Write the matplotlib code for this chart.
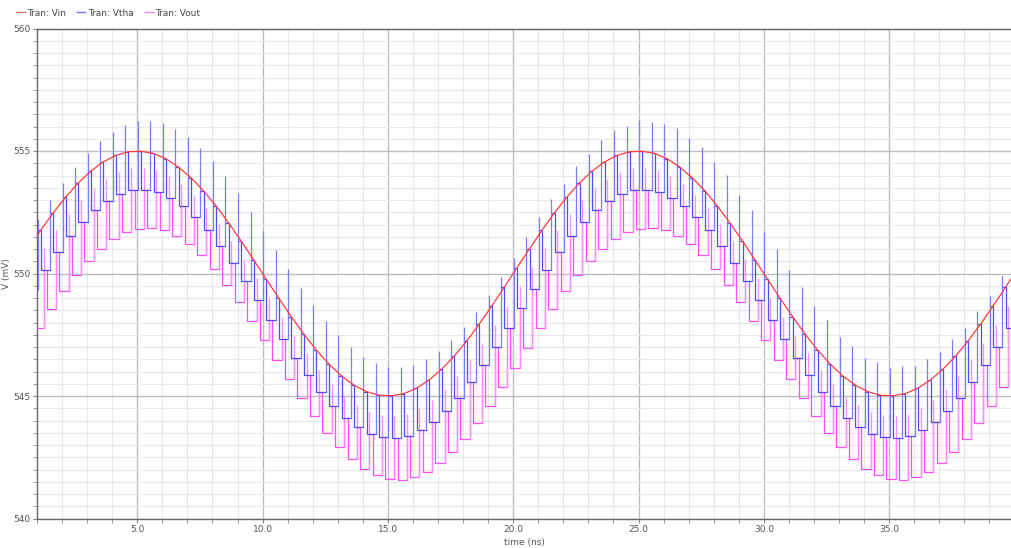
import numpy as np
import matplotlib
matplotlib.use("Agg")
import matplotlib.pyplot as plt
from matplotlib.lines import Line2D
from matplotlib.ticker import MultipleLocator, FormatStrFormatter

# start of each Vtha hold phase (ns)
t_hold = [0.15, 0.65, 1.15, 1.65, 2.15, 2.65, 3.15, 3.65, 4.15, 4.65,
          5.15, 5.65, 6.15, 6.65, 7.15, 7.65, 8.15, 8.65, 9.15, 9.65,
          10.15, 10.65, 11.15, 11.65, 12.15, 12.65, 13.15, 13.65, 14.15, 14.65,
          15.15, 15.65, 16.15, 16.65, 17.15, 17.65, 18.15, 18.65, 19.15, 19.65,
          20.15, 20.65, 21.15, 21.65, 22.15, 22.65, 23.15, 23.65, 24.15, 24.65,
          25.15, 25.65, 26.15, 26.65, 27.15, 27.65, 28.15, 28.65, 29.15, 29.65,
          30.15, 30.65, 31.15, 31.65, 32.15, 32.65, 33.15, 33.65, 34.15, 34.65,
          35.15, 35.65, 36.15, 36.65, 37.15, 37.65, 38.15, 38.65, 39.15, 39.65,
          40.15]

# Tran: Vin (mV) at those instants
vin = [550.24, 551.01, 551.77, 552.48, 553.13, 553.70, 554.18, 554.56, 554.82, 554.97,
       554.99, 554.90, 554.68, 554.34, 553.90, 553.37, 552.75, 552.06, 551.32, 550.55,
       549.76, 548.99, 548.23, 547.52, 546.87, 546.30, 545.82, 545.44, 545.18, 545.03,
       545.01, 545.10, 545.32, 545.66, 546.10, 546.63, 547.25, 547.94, 548.68, 549.45,
       550.24, 551.01, 551.77, 552.48, 553.13, 553.70, 554.18, 554.56, 554.82, 554.97,
       554.99, 554.90, 554.68, 554.34, 553.90, 553.37, 552.75, 552.06, 551.32, 550.55,
       549.76, 548.99, 548.23, 547.52, 546.87, 546.30, 545.82, 545.44, 545.18, 545.03,
       545.01, 545.10, 545.32, 545.66, 546.10, 546.63, 547.25, 547.94, 548.68, 549.45,
       550.24]

# Tran: Vtha hold level (mV)
vtha_hold = [548.59, 549.37, 550.15, 550.87, 551.52, 552.10, 552.59, 552.97, 553.24, 553.39,
             553.41, 553.32, 553.10, 552.75, 552.31, 551.77, 551.14, 550.44, 549.69, 548.91,
             548.11, 547.33, 546.56, 545.84, 545.18, 544.60, 544.11, 543.73, 543.46, 543.31,
             543.29, 543.38, 543.60, 543.95, 544.40, 544.93, 545.56, 546.26, 547.01, 547.79,
             548.59, 549.37, 550.15, 550.87, 551.52, 552.10, 552.59, 552.97, 553.24, 553.39,
             553.41, 553.32, 553.10, 552.75, 552.31, 551.77, 551.14, 550.44, 549.69, 548.91,
             548.11, 547.33, 546.56, 545.84, 545.18, 544.60, 544.11, 543.73, 543.46, 543.31,
             543.29, 543.38, 543.60, 543.95, 544.40, 544.93, 545.56, 546.26, 547.01, 547.79,
             548.59]

# Tran: Vtha spike peak at end of hold (mV)
vtha_peak = [551.44, 552.22, 552.98, 553.70, 554.35, 554.93, 555.41, 555.79, 556.06, 556.21,
             556.23, 556.14, 555.91, 555.58, 555.13, 554.59, 553.97, 553.27, 552.53, 551.75,
             550.96, 550.18, 549.42, 548.70, 548.05, 547.47, 546.99, 546.61, 546.34, 546.19,
             546.17, 546.27, 546.49, 546.82, 547.27, 547.81, 548.43, 549.13, 549.87, 550.65,
             551.50, 552.30, 553.05, 553.66, 554.40, 554.88, 555.45, 555.84, 556.02, 556.25,
             556.20, 556.10, 555.95, 555.52, 555.18, 554.55, 554.02, 553.22, 552.58, 551.70,
             551.00, 550.14, 549.46, 548.66, 548.10, 547.42, 547.03, 546.57, 546.38, 546.15,
             546.21, 546.23, 546.53, 546.78, 547.31, 547.77, 548.47, 549.09, 549.91, 550.61,
             551.44]

# Tran: Vout hold level (mV)
vout_hold = [546.96, 547.76, 548.55, 549.28, 549.94, 550.52, 551.02, 551.41, 551.68, 551.83,
             551.86, 551.76, 551.54, 551.19, 550.74, 550.19, 549.55, 548.84, 548.08, 547.29,
             546.48, 545.69, 544.90, 544.17, 543.50, 542.91, 542.42, 542.03, 541.76, 541.61,
             541.59, 541.68, 541.90, 542.26, 542.71, 543.25, 543.89, 544.60, 545.36, 546.15,
             546.96, 547.76, 548.55, 549.28, 549.94, 550.52, 551.02, 551.41, 551.68, 551.83,
             551.86, 551.76, 551.54, 551.19, 550.74, 550.19, 549.55, 548.84, 548.08, 547.29,
             546.48, 545.69, 544.90, 544.17, 543.50, 542.91, 542.42, 542.03, 541.76, 541.61,
             541.59, 541.68, 541.90, 542.26, 542.71, 543.25, 543.89, 544.60, 545.36, 546.15,
             546.96]

vout_overshoot = 0.9   # mV above Vtha when Vout starts tracking

# timing inside one 0.5 ns cycle
hold_len = 0.37
vout_start = 0.24
vout_end = 0.61

# build the waveforms
n = len(t_hold) - 1
tha_x, tha_y = [], []
spike_x, spike_lo, spike_hi = [], [], []
out_x, out_y = [], []
out_spk_x, out_spk_lo, out_spk_hi = [], [], []
for k in range(n):
    t0 = t_hold[k]
    t1 = t0 + hold_len
    # Vtha: drop from Vin to hold level, hold, then (fast) back to Vin
    tha_x += [t0, t0, t1, np.nan, t1 + 0.01]
    tha_y += [vin[k], vtha_hold[k], vtha_hold[k], np.nan, vin[k + 1]]
    spike_x.append(t1)
    spike_lo.append(vtha_hold[k])
    spike_hi.append(vtha_peak[k])
    # Vout: samples Vtha with a lag
    a = t0 + vout_start
    b = t0 + vout_end
    out_x += [a, a, b, b]
    out_y += [vtha_hold[k], vout_hold[k], vout_hold[k], vtha_hold[k + 1]]
    out_spk_x.append(b)
    out_spk_lo.append(vout_hold[k])
    out_spk_hi.append(vtha_hold[k + 1] + vout_overshoot)
tha_x.append(t_hold[n])
tha_y.append(vin[n])

fig = plt.figure(figsize=(10.12, 5.48), dpi=100)
ax = fig.add_axes([37 / 1012, 29.5 / 548, 975 / 1012, 490 / 548])

ax.plot(out_x, out_y, color='#ff4dff', linewidth=0.9, zorder=3)
ax.vlines(out_spk_x, out_spk_lo, out_spk_hi, color='#ff8cff', linewidth=0.9, zorder=3)
ax.plot(tha_x, tha_y, color='#4d4dff', linewidth=0.9, zorder=4)
ax.vlines(spike_x, spike_lo, spike_hi, color='#7c7cff', linewidth=0.9, zorder=4)
ax.plot(t_hold, vin, color='#ff3b3b', linewidth=0.9, zorder=5)

ax.set_xlim(1.0, 39.9)
ax.set_ylim(540, 560)
ax.xaxis.set_major_locator(MultipleLocator(5))
ax.xaxis.set_minor_locator(MultipleLocator(1))
ax.xaxis.set_major_formatter(FormatStrFormatter('%.1f'))
ax.yaxis.set_major_locator(MultipleLocator(5))
ax.yaxis.set_minor_locator(MultipleLocator(0.5))
ax.grid(which='major', color='#bdbdbd', linewidth=1.0)
ax.grid(which='minor', color='#e8e8e8', linewidth=0.8)
ax.set_axisbelow(True)

for side in ['left', 'bottom', 'top']:
    ax.spines[side].set_color('#666666')
    ax.spines[side].set_linewidth(1.0)
ax.spines['right'].set_visible(False)
ax.tick_params(which='both', direction='out', length=3, color='#888888',
               labelsize=6.5, labelcolor='#555555', pad=2)

ax.set_xlabel('time (ns)', fontsize=6.5, color='#555555')
ax.set_ylabel('V (mV)', fontsize=6.5, color='#555555')
ax.xaxis.set_label_coords(0.5, -0.04)
ax.yaxis.set_label_coords(-0.027, 0.5)

handles = [Line2D([], [], color='#ff6e6e', linewidth=1.0),
           Line2D([], [], color='#6e6eff', linewidth=1.0),
           Line2D([], [], color='#ff82ff', linewidth=1.0)]
leg = fig.legend(handles, ['Tran: Vin', 'Tran: Vtha', 'Tran: Vout'],
                 loc='upper left', bbox_to_anchor=(0.01, 0.996), ncol=3,
                 frameon=False, fontsize=6.5, handlelength=0.9,
                 handletextpad=0.3, columnspacing=1.2, borderaxespad=0.3)
for txt in leg.get_texts():
    txt.set_color('#444444')

fig.savefig('out.png', dpi=100)
